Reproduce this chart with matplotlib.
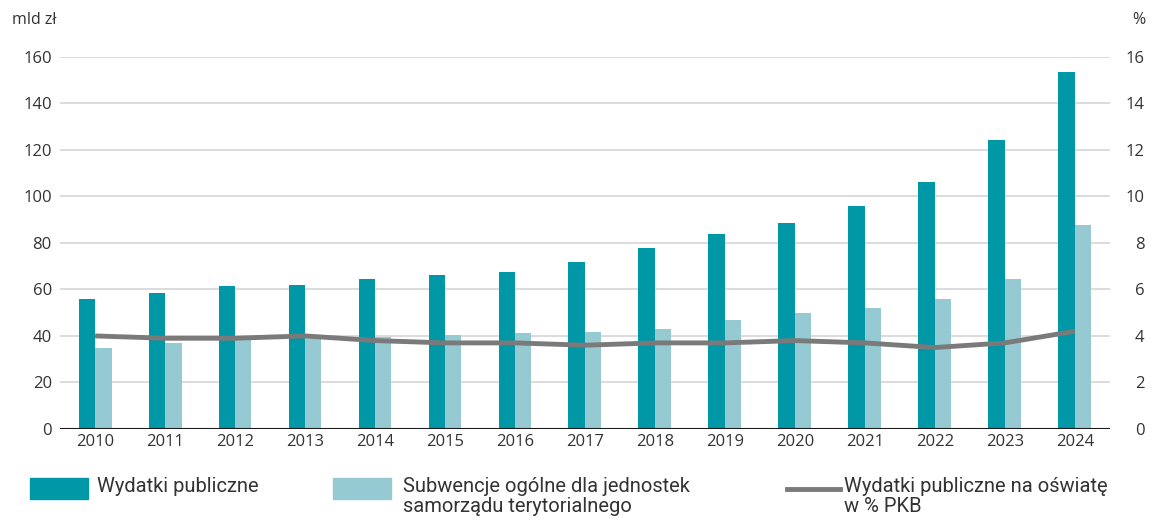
import numpy as np
import matplotlib
matplotlib.use('Agg')
import matplotlib.pyplot as plt
from matplotlib.patches import Rectangle
from matplotlib.lines import Line2D

# Dane
lata = ['2010', '2011', '2012', '2013', '2014', '2015', '2016', '2017',
        '2018', '2019', '2020', '2021', '2022', '2023', '2024']
wydatki = [56, 58.3, 61.5, 62, 64.4, 66, 67.6, 71.8, 77.7, 83.7, 88.5, 96, 106.2, 124.3, 153.5]
subwencje = [35, 36.8, 39.3, 40.2, 39.6, 40.4, 41.4, 41.7, 42.9, 46.7, 50, 52.2, 55.9, 64.4, 87.9]
proc_pkb = [4.0, 3.9, 3.9, 4.0, 3.8, 3.7, 3.7, 3.6, 3.7, 3.7, 3.8, 3.7, 3.5, 3.7, 4.2]

kolor_ciemny = '#0097A7'
kolor_jasny = '#96CAD3'
kolor_linii = '#7A7A7A'
kolor_tekstu = '#333333'

plt.rcParams['font.family'] = ['Open Sans', 'DejaVu Sans']

fig = plt.figure(figsize=(11.56, 5.18), dpi=100)
ax = fig.add_axes([0.052, 0.172, 0.908, 0.718])
ax2 = ax.twinx()

x = np.arange(len(lata))
w = 0.235
ax.bar(x - w / 2, wydatki, width=w, color=kolor_ciemny, zorder=2)
ax.bar(x + w / 2, subwencje, width=w, color=kolor_jasny, zorder=2)
ax2.plot(x, proc_pkb, color=kolor_linii, linewidth=3.5, solid_capstyle='butt')

ax.set_xlim(-0.5, len(lata) - 0.5)
ax.set_ylim(0, 160)
ax.set_yticks(range(0, 161, 20))
ax2.set_ylim(0, 16)
ax2.set_yticks(range(0, 17, 2))
ax.set_xticks(x)
ax.set_xticklabels(lata)

ax.grid(axis='y', color='#D9D9D9', linewidth=1.3, zorder=0)
ax.set_axisbelow(True)
for a in (ax, ax2):
    for s in ['top', 'right', 'left', 'bottom']:
        a.spines[s].set_visible(False)
ax.axhline(0, color='#1a1a1a', linewidth=1.5, zorder=3)

ax.tick_params(axis='y', length=0, pad=6, labelsize=12, labelcolor=kolor_tekstu)
ax.tick_params(axis='x', length=0, pad=4, labelsize=12, labelcolor=kolor_tekstu)
ax2.tick_params(axis='y', length=0, pad=25, labelsize=12, labelcolor=kolor_tekstu)
for t in ax2.yaxis.get_major_ticks():
    t.label2.set_horizontalalignment('right')

fig.text(12 / 1156, 1 - 20 / 518, 'mld zł', fontsize=11.5, color=kolor_tekstu, va='center')
fig.text(1145 / 1156, 1 - 20 / 518, '%', fontsize=11.5, color=kolor_tekstu, va='center', ha='right')

# Legenda
font_leg = ['Roboto', 'DejaVu Sans']
fs = 14.5
H, W = 518, 1156
y1, y2 = 487, 507
fig.patches.append(Rectangle((30 / W, 1 - 499 / H), 58 / W, 21 / H, transform=fig.transFigure,
                             color=kolor_ciemny))
fig.text(97 / W, 1 - y1 / H, 'Wydatki publiczne', family=font_leg, fontsize=fs,
         color=kolor_tekstu, va='center')
fig.patches.append(Rectangle((333 / W, 1 - 499 / H), 58 / W, 21 / H, transform=fig.transFigure,
                             color=kolor_jasny))
fig.text(403 / W, 1 - y1 / H, 'Subwencje ogólne dla jednostek', family=font_leg, fontsize=fs,
         color=kolor_tekstu, va='center')
fig.text(403 / W, 1 - y2 / H, 'samorządu terytorialnego', family=font_leg, fontsize=fs,
         color=kolor_tekstu, va='center')
fig.lines.append(Line2D([787 / W, 840 / W], [1 - 489 / H, 1 - 489 / H], transform=fig.transFigure,
                        color=kolor_linii, linewidth=3.5))
fig.text(844 / W, 1 - y1 / H, 'Wydatki publiczne na oświatę', family=font_leg, fontsize=fs,
         color=kolor_tekstu, va='center')
fig.text(844 / W, 1 - y2 / H, 'w % PKB', family=font_leg, fontsize=fs,
         color=kolor_tekstu, va='center')

fig.savefig('out.png', dpi=100)
